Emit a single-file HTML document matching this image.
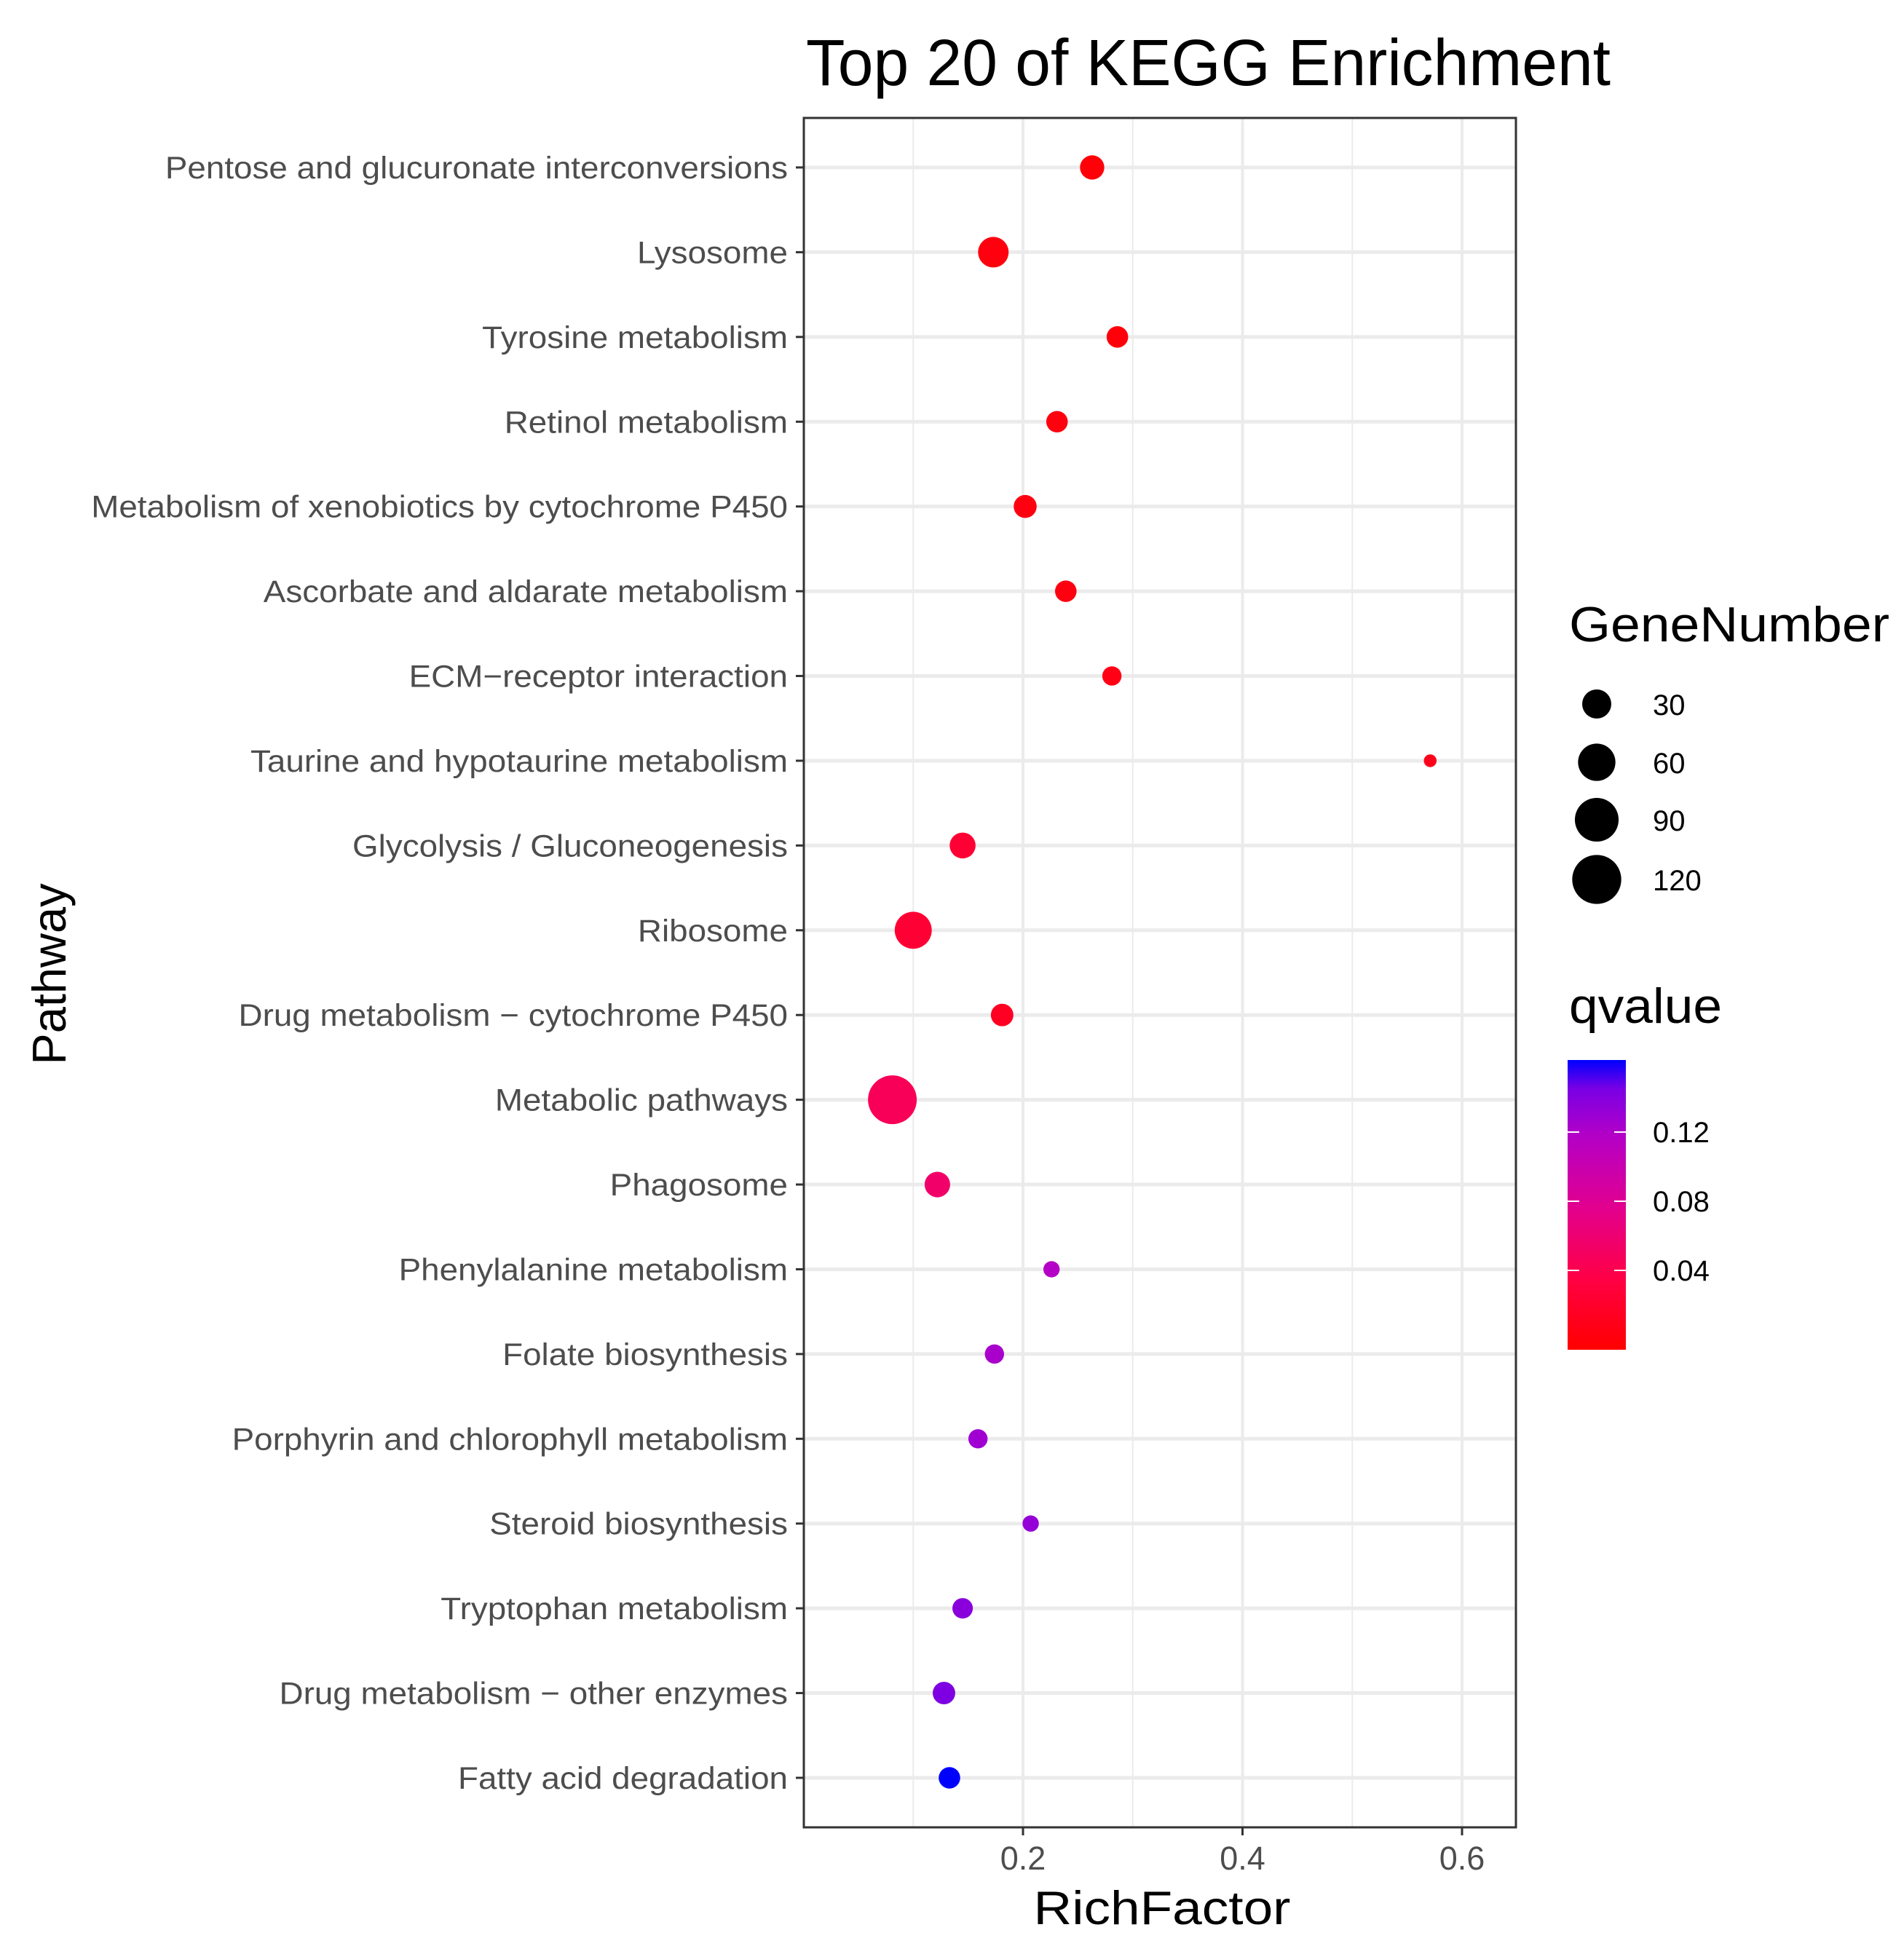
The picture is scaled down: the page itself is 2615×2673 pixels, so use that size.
<!DOCTYPE html>
<html><head><meta charset="utf-8"><style>
html,body{margin:0;padding:0;background:#fff;}
svg{display:block;font-family:"Liberation Sans",sans-serif;}
</style></head><body>
<svg id="chart" width="2615" height="2673" viewBox="0 0 2615 2673">
<defs>
<linearGradient id="qgrad" x1="0" y1="1" x2="0" y2="0">
<stop offset="0" stop-color="#ff0000"/>
<stop offset="0.245" stop-color="#ff0045"/>
<stop offset="0.49" stop-color="#e2008e"/>
<stop offset="0.736" stop-color="#b400c6"/>
<stop offset="0.9" stop-color="#7a00e4"/>
<stop offset="1" stop-color="#0000ff"/>
</linearGradient>
</defs>
<text x="1107" y="117" font-size="90" textLength="1105" lengthAdjust="spacingAndGlyphs" fill="#000">Top 20 of KEGG Enrichment</text>
<g id="panel"></g>
<g id="yaxis"></g>
<g id="xaxis"></g>
<g id="points"></g>
<rect x="1104" y="162" width="978" height="2348" fill="none" stroke="#333" stroke-width="3"/>
<text x="1596" y="2643" font-size="65" text-anchor="middle" textLength="353" lengthAdjust="spacingAndGlyphs" fill="#000">RichFactor</text>
<text transform="translate(90,1338) rotate(-90)" font-size="65" text-anchor="middle" fill="#000">Pathway</text>
<text x="2155" y="881" font-size="68" textLength="440" lengthAdjust="spacingAndGlyphs" fill="#000">GeneNumber</text>
<g id="sizelegend"></g>
<text x="2155" y="1405" font-size="68" textLength="210" lengthAdjust="spacingAndGlyphs" fill="#000">qvalue</text>
<rect x="2153" y="1456" width="80" height="398" fill="url(#qgrad)"/>
<g id="colorlegend"></g>
</svg>
<script>
const pathways = ["Pentose and glucuronate interconversions","Lysosome","Tyrosine metabolism","Retinol metabolism","Metabolism of xenobiotics by cytochrome P450","Ascorbate and aldarate metabolism","ECM\u2212receptor interaction","Taurine and hypotaurine metabolism","Glycolysis / Gluconeogenesis","Ribosome","Drug metabolism \u2212 cytochrome P450","Metabolic pathways","Phagosome","Phenylalanine metabolism","Folate biosynthesis","Porphyrin and chlorophyll metabolism","Steroid biosynthesis","Tryptophan metabolism","Drug metabolism \u2212 other enzymes","Fatty acid degradation"];
const richFactor = [0.263,0.173,0.286,0.231,0.202,0.239,0.281,0.571,0.145,0.100,0.181,0.081,0.122,0.226,0.174,0.159,0.207,0.145,0.128,0.133];
const geneNumber = [18,36,12,12,15,12,8,1,22,61,14,123,21,4,8,8,4,10,14,12];
const qvalue = [0.005,0.008,0.006,0.008,0.01,0.01,0.012,0.015,0.03,0.03,0.02,0.05,0.06,0.12,0.125,0.13,0.135,0.14,0.145,0.163];
const xTicks = [0.2,0.4,0.6];
const xMinor = [0.1,0.3,0.5];
const sizeBreaks = [30,60,90,120];
const qTicks = [0.04,0.08,0.12];

const NS="http://www.w3.org/2000/svg";
function mk(tag,attrs,parent){const e=document.createElementNS(NS,tag);for(const k in attrs)e.setAttribute(k,attrs[k]);parent.appendChild(e);return e;}
const PL=1104,PR=2082,PT=162,PB=2510;
const xScale=v=>1103.5+v*1507.5;
const yScale=i=>230+i*116.42;
const sizeScale=n=>4.9*Math.sqrt(n)+12.6;
const legendSize=n=>5.0*Math.sqrt(n)+12.6;
const qScale=q=>1840-q*(95/0.04);
const stops=[[0,[255,0,0]],[0.04,[255,0,69]],[0.08,[226,0,142]],[0.12,[180,0,198]],[0.147,[122,0,228]],[0.163,[0,0,255]]];
function qColor(q){for(let i=1;i<stops.length;i++){if(q<=stops[i][0]){const a=stops[i-1],b=stops[i];const t=(q-a[0])/(b[0]-a[0]);const c=a[1].map((v,j)=>Math.round(v+(b[1][j]-v)*t));return `rgb(${c[0]},${c[1]},${c[2]})`;}}return "rgb(0,0,255)";}

const panel=document.getElementById('panel');
xMinor.forEach(v=>{const l=mk('line',{x1:xScale(v),x2:xScale(v),y1:PT,y2:PB,stroke:'#ebebeb','stroke-width':2},panel);

});
xTicks.forEach(v=>{const l=mk('line',{x1:xScale(v),x2:xScale(v),y1:PT,y2:PB,stroke:'#ebebeb','stroke-width':4},panel);

});
pathways.forEach((p,i)=>{const l=mk('line',{x1:PL,x2:PR,y1:yScale(i),y2:yScale(i),stroke:'#ebebeb','stroke-width':5},panel);

});

const yaxis=document.getElementById('yaxis');
pathways.forEach((p,i)=>{
const t=mk('line',{x1:1093,x2:1104,y1:yScale(i),y2:yScale(i),stroke:'#333','stroke-width':3},yaxis);


const tx=mk('text',{x:0,y:0,transform:`translate(1082,${yScale(i)+15}) scale(1.065,1)`,'font-size':43,'text-anchor':'end',fill:'#4d4d4d'},yaxis);
tx.textContent=p;


});
const xaxis=document.getElementById('xaxis');
xTicks.forEach(v=>{
const t=mk('line',{x1:xScale(v),x2:xScale(v),y1:PB,y2:PB+11,stroke:'#333','stroke-width':3},xaxis);


const tx=mk('text',{x:xScale(v),y:2568,'font-size':45,'text-anchor':'middle',fill:'#4d4d4d'},xaxis);
tx.textContent=String(v);


});
const pts=document.getElementById('points');
pathways.forEach((p,i)=>{
const c=mk('circle',{cx:xScale(richFactor[i]),cy:yScale(i),r:sizeScale(geneNumber[i])/2,fill:qColor(qvalue[i])},pts);


});
const sl=document.getElementById('sizelegend');
const sy=[967,1047,1126,1208];
sizeBreaks.forEach((n,i)=>{
const c=mk('circle',{cx:2193,cy:sy[i],r:legendSize(n)/2,fill:'#000'},sl);


const tx=mk('text',{x:2270,y:sy[i]+15,'font-size':40,fill:'#000'},sl);
tx.textContent=String(n);


});
const cl=document.getElementById('colorlegend');
qTicks.forEach(q=>{
const y=qScale(q);
const a=mk('line',{x1:2153,x2:2169,y1:y,y2:y,stroke:'#fff','stroke-width':2},cl);


const b=mk('line',{x1:2217,x2:2233,y1:y,y2:y,stroke:'#fff','stroke-width':2},cl);


const tx=mk('text',{x:2270,y:y+14,'font-size':40,fill:'#000'},cl);
tx.textContent=q.toFixed(2);


});
</script>
</body></html>
